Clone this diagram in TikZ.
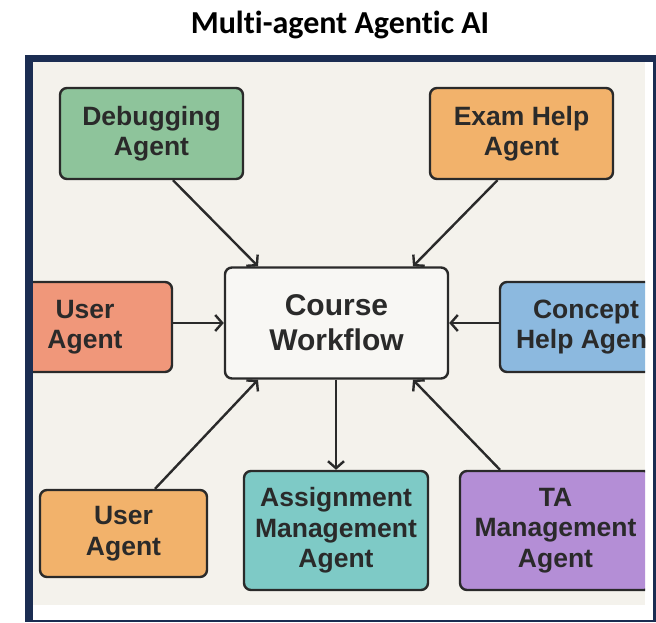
\documentclass[tikz,border=0pt]{standalone}
\usepackage{fontspec}
\setmainfont{Liberation Sans}
\newfontfamily\titlefont[Ligatures=NoCommon]{Carlito}
\usepackage{xcolor}
\usetikzlibrary{arrows.meta}

\definecolor{navy}{HTML}{1B2D52}
\definecolor{paper}{HTML}{F4F2EC}
\definecolor{ink}{HTML}{2A2A2A}
\definecolor{debuggreen}{HTML}{8EC49B}
\definecolor{examorange}{HTML}{F2B26B}
\definecolor{usersalmon}{HTML}{F0977A}
\definecolor{conceptblue}{HTML}{8CB9DF}
\definecolor{assignteal}{HTML}{7ECAC6}
\definecolor{tapurple}{HTML}{B48ED6}

\tikzset{
    agent/.style={draw=ink, line width=2.4pt, rounded corners=7pt, align=center,
        inner sep=0pt, text=ink, font=\fontsize{26.5}{30.5}\selectfont\bfseries},
    hub/.style={agent, fill=paper!60!white, font=\fontsize{30}{35}\selectfont\bfseries},
    link/.style={draw=ink, line width=2.4pt, -{Straight Barb[length=7pt,width=16pt]}}
}

\begin{document}
\begin{tikzpicture}[x=1pt,y=-1pt]
        \useasboundingbox (0,0) rectangle (656,622);
        \fill[white] (0,0) rectangle (656,622);
        \node[anchor=base, font=\titlefont\fontsize{32}{36}\selectfont\bfseries] (title) at (340,33) {Multi-agent Agentic AI};

        % frame
        \fill[navy] (25,55) rectangle (656,622);
        \fill[white] (33,62) rectangle (653,620);
        \fill[paper] (33,62) rectangle (645,605);

        \begin{scope}
        \clip (33,62) rectangle (645,605);
        \node[agent, fill=debuggreen, minimum width=183, minimum height=91] (debug) at (151.5,133.5) {Debugging\\Agent};
        \node[agent, fill=examorange, minimum width=183, minimum height=91] (exam) at (521.5,133.5) {Exam Help\\Agent};
        \node[hub, minimum width=223, minimum height=111] (course) at (336.5,323) {Course\\Workflow};
        \node[agent, fill=usersalmon, minimum width=174, minimum height=90] (user) at (85,327) {User\\Agent};
        \node[agent, fill=conceptblue, minimum width=172, minimum height=90] (concept) at (586,327) {Concept\\Help Agent};
        \node[agent, fill=examorange, minimum width=167, minimum height=87] (student) at (123.5,533.5) {User\\Agent};
        \node[agent, fill=assignteal, minimum width=184, minimum height=119] (assign) at (336,530.5) {Assignment\\Management\\Agent};
        \node[agent, fill=tapurple, minimum width=191, minimum height=119] (ta) at (555.5,530.5) {TA\\Management\\Agent};
        \end{scope}

        \draw[link] ([xshift=21.5pt]debug.south) -- ([xshift=-78.5pt]course.north);
        \draw[link] ([xshift=-24pt]exam.south) -- ([xshift=76.5pt]course.north);
        \draw[link] (user.east |- course.west) -- (course.west);
        \draw[link] (concept.west |- course.east) -- (course.east);
        \draw[link] ([xshift=31.5pt]student.north) -- ([xshift=-78.5pt]course.south);
        \draw[link] (course.south -| assign.north) -- (assign.north);
        \draw[link] ([xshift=-55.5pt]ta.north) -- ([xshift=76.5pt]course.south);
\end{tikzpicture}
\end{document}
